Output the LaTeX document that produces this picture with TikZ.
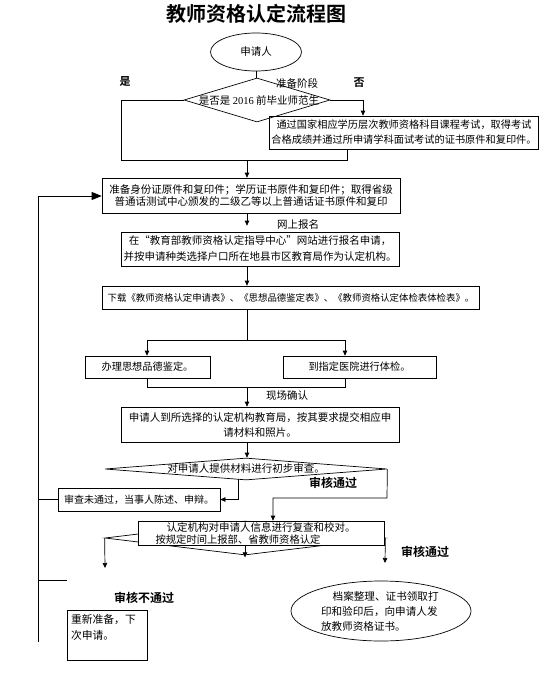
\documentclass[tikz,border=0pt]{standalone}
\usepackage{fontspec}
\setmainfont{Noto Sans CJK SC}[BoldFont={Noto Sans CJK SC Bold}]
\newfontfamily\serifnum{Liberation Serif}
\usetikzlibrary{arrows.meta,shapes.geometric,calc}

\begin{document}
\begin{tikzpicture}[x=1pt,y=-1pt,>={Triangle[length=5pt,width=4.5pt]},line width=0.7pt,
  box node/.style={draw,rectangle,inner sep=2pt,align=center,font=\fontsize{10.5}{15}\selectfont},
  dia node/.style={draw,diamond,inner sep=0pt},
  oval node/.style={draw,ellipse,inner sep=0pt},
  word/.style={font=\fontsize{10.5}{15}\selectfont,inner sep=0pt},
  verdict/.style={font=\fontsize{12}{12}\selectfont\bfseries,inner sep=0pt}]
\useasboundingbox (0,0) rectangle (550,677);

\node[font=\fontsize{20}{20}\selectfont\bfseries] (title) at (256,14) {教师资格认定流程图};

% preparation stage
\node[oval node,minimum width=91pt,minimum height=38pt,font=\fontsize{10.5}{15}\selectfont] (applicant) at (256,52) {申请人};
\node[dia node,minimum width=146pt,minimum height=44pt] (d1) at (257,100) {};
\node[word] (d1text) at (259,100) {是否是 {\serifnum 2016} 前毕业师范生};
\node[verdict,font=\fontsize{11}{11}\selectfont\bfseries] (yes) at (125,82) {是};
\node[word] (stage) at (297,83) {准备阶段};
\node[verdict,font=\fontsize{11}{11}\selectfont\bfseries] (no) at (359,83) {否};
\node[box node,minimum width=262pt,minimum height=33pt,font=\fontsize{10.2}{15}\selectfont] (exam) at (404,132.5)
  {通过国家相应学历层次教师资格科目课程考试，取得考试\\合格成绩并通过所申请学科面试考试的证书原件和复印件。};
\node[box node,minimum width=298pt,minimum height=35pt,font=\fontsize{10.5}{12.5}\selectfont] (docs) at (251,195.5)
  {准备身份证原件和复印件；学历证书原件和复印件；取得省级\\普通话测试中心颁发的二级乙等以上普通话证书原件和复印};

% online registration
\node[word] (online) at (298,225) {网上报名};
\node[box node,minimum width=278pt,minimum height=34pt,font=\fontsize{10.5}{16}\selectfont] (register) at (260,249)
  {在“教育部教师资格认定指导中心”网站进行报名申请，\\并按申请种类选择户口所在地县市区教育局作为认定机构。};
\node[box node,minimum width=377pt,minimum height=23pt,font=\fontsize{9.4}{12}\selectfont] (forms) at (291,297.5)
  {下载《教师资格认定申请表》、《思想品德鉴定表》、《教师资格认定体检表体检表》。};
\node[box node,minimum width=125pt,minimum height=22pt,font=\fontsize{10.2}{12}\selectfont] (moral) at (147.5,367) {办理思想品德鉴定。};
\node[box node,minimum width=153pt,minimum height=22pt,font=\fontsize{10.2}{12}\selectfont] (medical) at (359.5,367) {到指定医院进行体检。};

% on-site confirmation
\node[word] (confirm) at (287,396) {现场确认};
\node[box node,minimum width=278pt,minimum height=35pt] (submit) at (260,424.5)
  {申请人到所选择的认定机构教育局，按其要求提交相应申\\请材料和照片。};
\node[dia node,minimum width=282pt,minimum height=22pt] (d2) at (246,469) {};
\node[word] (d2text) at (246,468) {对申请人提供材料进行初步审查。};
\node[box node,minimum width=162pt,minimum height=23pt,font=\fontsize{10}{12}\selectfont] (reject) at (139,499.5) {审查未通过，当事人陈述、申辩。};
\node[verdict] (pass1) at (333,483) {审核通过};

\node[dia node,minimum width=280pt,minimum height=34pt] (d3) at (245,538) {};
\node[box node,fill=white,minimum width=246pt,minimum height=24pt,inner ysep=1pt] (recheck) at (261,533)
  {认定机构对申请人信息进行复查和校对。\rule[-11pt]{0pt}{11pt}};
\node[word,font=\fontsize{10.3}{12}\selectfont] (d3text) at (238,540) {按规定时间上报部、省教师资格认定};
\node[verdict] (pass2) at (425,552) {审核通过};
\node[verdict] (fail) at (144,598) {审核不通过};

\node[box node,minimum width=80pt,minimum height=50pt,align=left,text width=72pt,inner xsep=4pt,font=\fontsize{10.8}{16}\selectfont] (retry) at (107,635)
  {重新准备，下\\次申请。\\~};
\node[oval node,minimum width=180pt,minimum height=60pt,align=left,text width=120pt,font=\fontsize{10.6}{15}\selectfont] (cert) at (381,611)
  {\hspace{1.1em}档案整理、证书领取打\\印和验印后，向申请人发\\放教师资格证书。};

% connectors
\coordinate (c1) at (121,160);
\coordinate (c2) at (347,160);
\coordinate (c3) at (363,100);
\coordinate (c4) at (247,160);
\draw (applicant.south) -- (applicant.south |- d1.north);
\draw (d1.west) -| (c1) -- (c2) -- (c2 |- exam.south);
\draw[->] (d1.east) -- (c3) -- (c3 |- exam.north);
\draw[->] (c4) -- (c4 |- docs.north);
\draw[->,shorten >=6pt] (c4 |- docs.south) -- (c4 |- register.north);
\draw[->] (c4 |- register.south) -- (c4 |- forms.north);

\coordinate (s1) at (147,340);
\coordinate (s2) at (345,340);
\draw (c4 |- forms.south) -- (c4 |- s1);
\draw (s1) -- (s2);
\draw[->] (s1) -- (s1 |- moral.north);
\draw[->] (s2) -- (s2 |- medical.north);
\coordinate (j1) at (147,387);
\coordinate (j2) at (345,387);
\draw (j1 |- moral.south) -- (j1) -- (j2) -- (j2 |- medical.south);
\draw[->] (c4 |- j1) -- (c4 |- submit.north);
\draw[->] (c4 |- submit.south) -- (c4 |- d2.north);

\coordinate (r1) at (238,479);
\draw[->] (r1) |- (reject.east);
\coordinate (p1) at (387,498);
\coordinate (p2) at (273,498);
\draw[->] (d2.east) -- (p1) -- (p2) -- (p2 |- recheck.north);

\coordinate (lt) at (38,196);
\coordinate (lb) at (38,642);
\draw[-{Triangle[length=10pt,width=8pt]}] (lb) -- (lt) -- (lt -| docs.west);
\draw (reject.west) -- (reject.west -| lt);
\coordinate (k1) at (38,580);
\coordinate (k2) at (67,580);
\draw (k1) -- (k2);

\coordinate (q1) at (105,568);
\coordinate (q2) at (385,563);
\draw[->] (d3.west) -- (q1);
\draw[->] (d3.east) -- (q2);
\draw[->] (d3.south |- recheck.south) -- ([yshift=-2pt]d3.south);
\end{tikzpicture}
\end{document}
